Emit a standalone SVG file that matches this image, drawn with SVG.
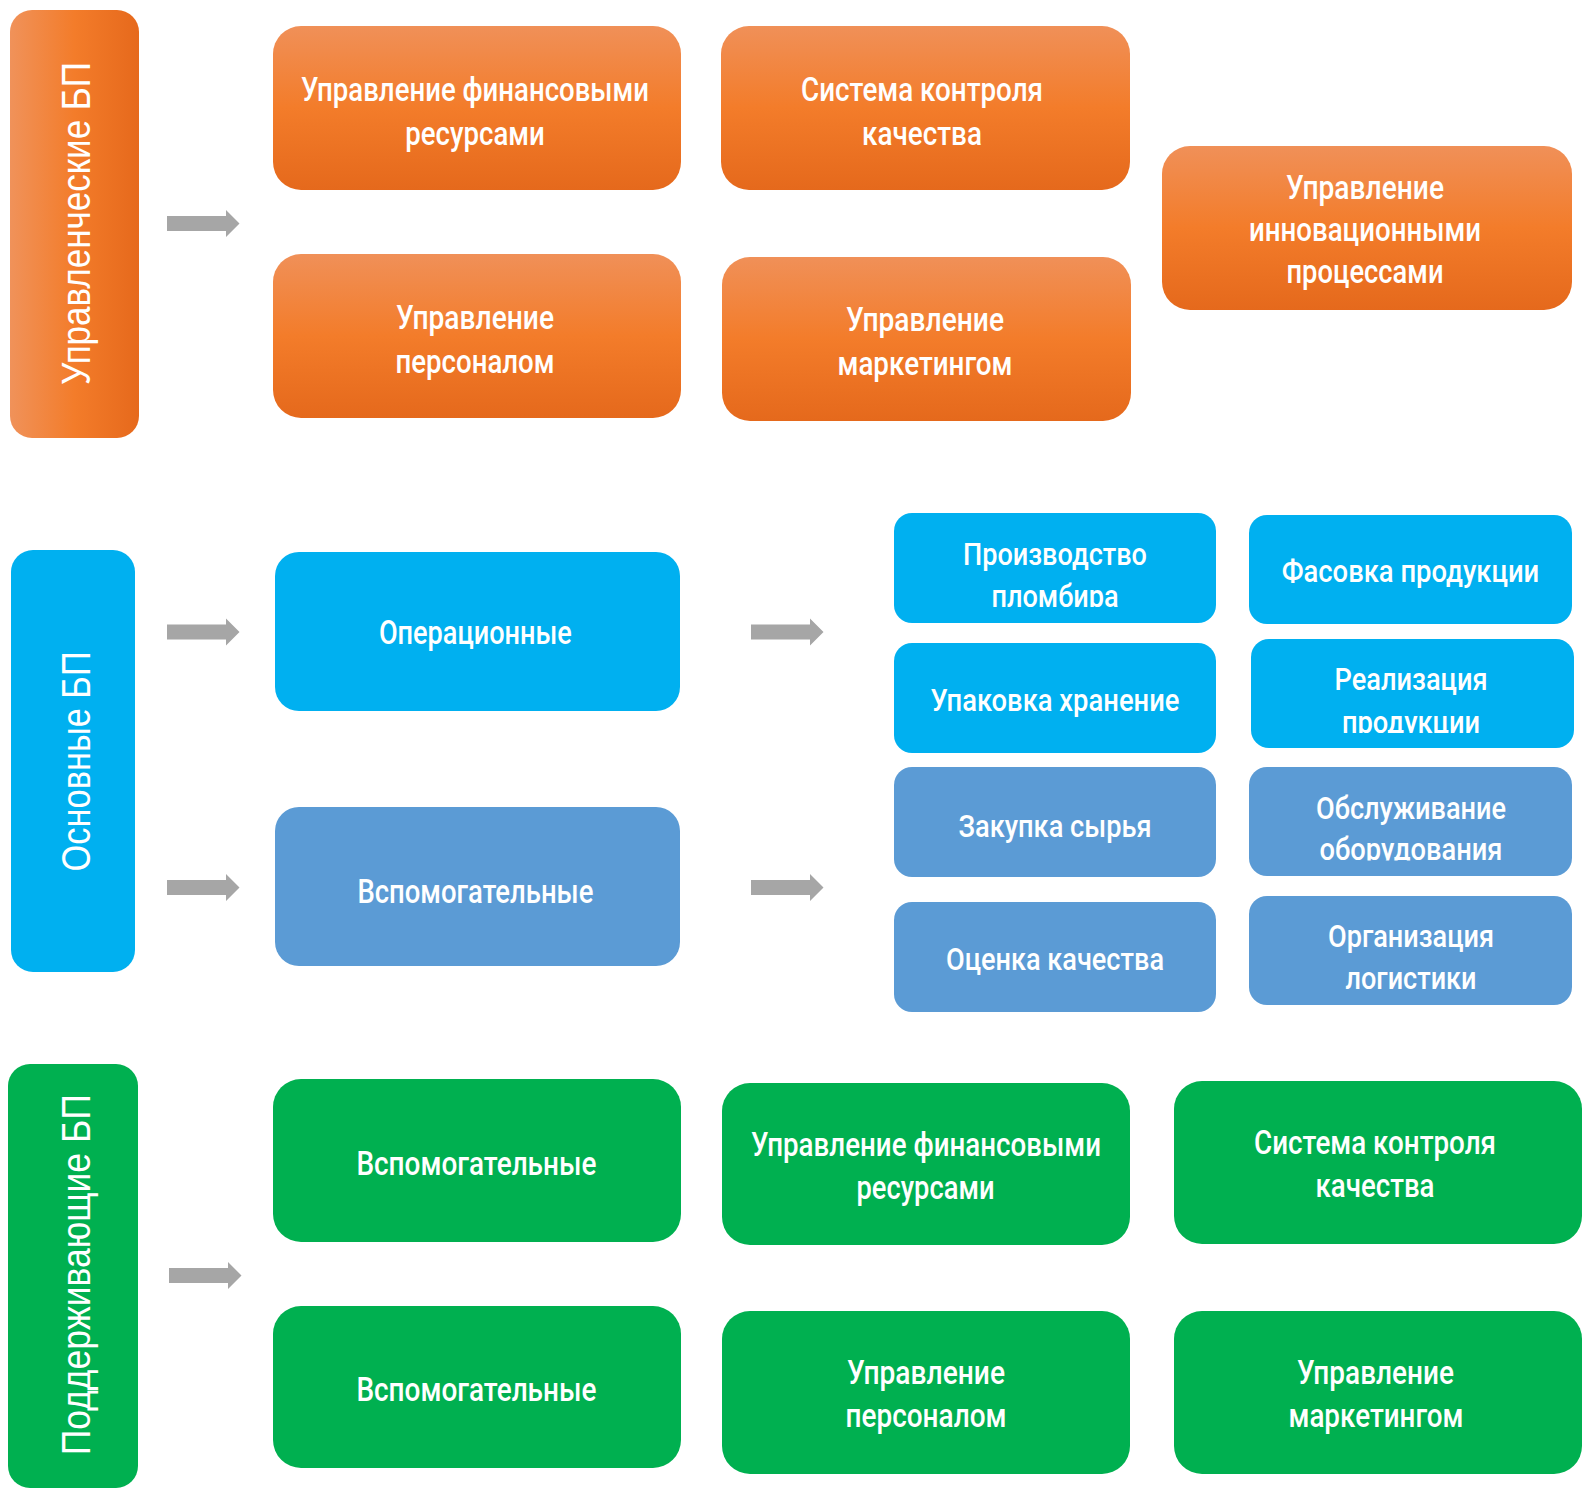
<svg xmlns="http://www.w3.org/2000/svg" width="1596" height="1502" viewBox="0 0 1596 1502">
  <defs>
    <linearGradient id="gOrangeV" x1="0" y1="0" x2="0" y2="1">
      <stop offset="0" stop-color="#F09058"/>
      <stop offset="0.5" stop-color="#F37C2A"/>
      <stop offset="1" stop-color="#E5691C"/>
    </linearGradient>
    <linearGradient id="gOrangeH" x1="0" y1="0" x2="1" y2="0">
      <stop offset="0" stop-color="#F0925A"/>
      <stop offset="0.5" stop-color="#F37C2A"/>
      <stop offset="1" stop-color="#E6691C"/>
    </linearGradient>
    <path id="arrow" d="M0,-7.5 H59 V-13.5 L72.5,0 L59,13.5 V7.5 H0 Z" fill="#A6A6A6"/>
    <clipPath id="clipPlombir"><rect x="894" y="513" width="322" height="94"/></clipPath>
    <clipPath id="clipProd"><rect x="1251" y="639" width="323" height="94"/></clipPath>
    <clipPath id="clipObor"><rect x="1249" y="767" width="323" height="93.5"/></clipPath>
  </defs>
  <style>
    .t { font-family: Roboto, "Liberation Sans", sans-serif; font-weight: 500; font-size: 33px; fill: #FFFFFF; text-anchor: middle; }
    .s { font-size: 31px; }
    .v { font-family: "Liberation Sans", Arial, sans-serif; font-weight: 400; font-size: 41px; fill: #FFFFFF; text-anchor: middle; }
    .or { fill: url(#gOrangeV); }
    .bl { fill: #00B0F0; }
    .st { fill: #5B9BD5; }
    .gr { fill: #00B050; }
  </style>
  <rect width="1596" height="1502" fill="#FFFFFF"/>

  <!-- Orange section -->
  <g id="bar-upr">
    <rect x="10" y="10" width="129" height="428" rx="22" fill="url(#gOrangeH)"/>
    <text class="v" transform="translate(89.5 223.5) rotate(-90)" x="0" y="0" textLength="323" lengthAdjust="spacingAndGlyphs">Управленческие БП</text>
  </g>
  <g id="o-fin">
    <rect class="or" x="273" y="26" width="408" height="164" rx="28"/>
    <text class="t" x="475" y="101" textLength="348" lengthAdjust="spacingAndGlyphs">Управление финансовыми</text>
    <text class="t" x="475" y="144.7" textLength="139.5" lengthAdjust="spacingAndGlyphs">ресурсами</text>
  </g>
  <g id="o-qual">
    <rect class="or" x="721" y="26" width="409" height="164" rx="28"/>
    <text class="t" x="922" y="101" textLength="242" lengthAdjust="spacingAndGlyphs">Система контроля</text>
    <text class="t" x="922" y="144.7" textLength="120" lengthAdjust="spacingAndGlyphs">качества</text>
  </g>
  <g id="o-pers">
    <rect class="or" x="273" y="254" width="408" height="164" rx="28"/>
    <text class="t" x="475" y="329" textLength="158" lengthAdjust="spacingAndGlyphs">Управление</text>
    <text class="t" x="475" y="372.8" textLength="159" lengthAdjust="spacingAndGlyphs">персоналом</text>
  </g>
  <g id="o-mark">
    <rect class="or" x="722" y="257" width="409" height="164" rx="28"/>
    <text class="t" x="925" y="331" textLength="158" lengthAdjust="spacingAndGlyphs">Управление</text>
    <text class="t" x="925" y="374.8" textLength="175" lengthAdjust="spacingAndGlyphs">маркетингом</text>
  </g>
  <g id="o-innov">
    <rect class="or" x="1162" y="146" width="410" height="164" rx="28"/>
    <text class="t" x="1365" y="198.7" textLength="158" lengthAdjust="spacingAndGlyphs">Управление</text>
    <text class="t" x="1365" y="241.4" textLength="232" lengthAdjust="spacingAndGlyphs">инновационными</text>
    <text class="t" x="1365" y="283.2" textLength="157" lengthAdjust="spacingAndGlyphs">процессами</text>
  </g>

  <!-- Blue section -->
  <g id="bar-osn">
    <rect class="bl" x="11" y="550" width="124" height="422" rx="22"/>
    <text class="v" transform="translate(89.5 761.4) rotate(-90)" x="0" y="0" textLength="220" lengthAdjust="spacingAndGlyphs">Основные БП</text>
  </g>
  <g id="b-oper">
    <rect class="bl" x="275" y="552" width="405" height="159" rx="24"/>
    <text class="t" x="475.4" y="644.4" textLength="193" lengthAdjust="spacingAndGlyphs">Операционные</text>
  </g>
  <g id="b-vspom">
    <rect class="st" x="275" y="807" width="405" height="159" rx="24"/>
    <text class="t" x="475.4" y="903.1" textLength="236" lengthAdjust="spacingAndGlyphs">Вспомогательные</text>
  </g>
  <g id="b-proizv">
    <rect class="bl" x="894" y="513" width="322" height="110" rx="18"/>
    <text class="t s" x="1055" y="565" textLength="184" lengthAdjust="spacingAndGlyphs">Производство</text>
    <text class="t s" x="1055" y="606.8" textLength="127" lengthAdjust="spacingAndGlyphs" clip-path="url(#clipPlombir)">пломбира</text>
  </g>
  <g id="b-fasov">
    <rect class="bl" x="1249" y="515" width="323" height="109" rx="18"/>
    <text class="t s" x="1410.5" y="582.3" textLength="257.5" lengthAdjust="spacingAndGlyphs">Фасовка продукции</text>
  </g>
  <g id="b-upak">
    <rect class="bl" x="894" y="643" width="322" height="110" rx="18"/>
    <text class="t s" x="1055" y="710.6" textLength="249" lengthAdjust="spacingAndGlyphs">Упаковка хранение</text>
  </g>
  <g id="b-realiz">
    <rect class="bl" x="1251" y="639" width="323" height="109" rx="18"/>
    <text class="t s" x="1411" y="690.3" textLength="153" lengthAdjust="spacingAndGlyphs">Реализация</text>
    <text class="t s" x="1411" y="733" textLength="138" lengthAdjust="spacingAndGlyphs" clip-path="url(#clipProd)">продукции</text>
  </g>
  <g id="b-zakup">
    <rect class="st" x="894" y="767" width="322" height="110" rx="18"/>
    <text class="t s" x="1055" y="836.8" textLength="193" lengthAdjust="spacingAndGlyphs">Закупка сырья</text>
  </g>
  <g id="b-obsl">
    <rect class="st" x="1249" y="767" width="323" height="109" rx="18"/>
    <text class="t s" x="1411" y="818.5" textLength="190" lengthAdjust="spacingAndGlyphs">Обслуживание</text>
    <text class="t s" x="1411" y="860.3" textLength="183" lengthAdjust="spacingAndGlyphs" clip-path="url(#clipObor)">оборудования</text>
  </g>
  <g id="b-ocenka">
    <rect class="st" x="894" y="902" width="322" height="110" rx="18"/>
    <text class="t s" x="1055" y="970.2" textLength="218" lengthAdjust="spacingAndGlyphs">Оценка качества</text>
  </g>
  <g id="b-logist">
    <rect class="st" x="1249" y="896" width="323" height="109" rx="18"/>
    <text class="t s" x="1411" y="946.8" textLength="166" lengthAdjust="spacingAndGlyphs">Организация</text>
    <text class="t s" x="1411" y="988.5" textLength="131" lengthAdjust="spacingAndGlyphs">логистики</text>
  </g>

  <!-- Green section -->
  <g id="bar-podd">
    <rect class="gr" x="8" y="1064" width="130" height="424" rx="22"/>
    <text class="v" transform="translate(89.5 1274.8) rotate(-90)" x="0" y="0" textLength="361" lengthAdjust="spacingAndGlyphs">Поддерживающие БП</text>
  </g>
  <g id="g-vspom1">
    <rect class="gr" x="273" y="1079" width="408" height="163" rx="28"/>
    <text class="t" x="476.4" y="1174.9" textLength="240" lengthAdjust="spacingAndGlyphs">Вспомогательные</text>
  </g>
  <g id="g-vspom2">
    <rect class="gr" x="273" y="1306" width="408" height="162" rx="28"/>
    <text class="t" x="476.4" y="1400.8" textLength="240" lengthAdjust="spacingAndGlyphs">Вспомогательные</text>
  </g>
  <g id="g-fin">
    <rect class="gr" x="722" y="1083" width="408" height="162" rx="28"/>
    <text class="t" x="926" y="1156.4" textLength="350" lengthAdjust="spacingAndGlyphs">Управление финансовыми</text>
    <text class="t" x="925.5" y="1199.4" textLength="138" lengthAdjust="spacingAndGlyphs">ресурсами</text>
  </g>
  <g id="g-qual">
    <rect class="gr" x="1174" y="1081" width="408" height="163" rx="28"/>
    <text class="t" x="1375" y="1154.4" textLength="242" lengthAdjust="spacingAndGlyphs">Система контроля</text>
    <text class="t" x="1375" y="1197.4" textLength="119" lengthAdjust="spacingAndGlyphs">качества</text>
  </g>
  <g id="g-pers">
    <rect class="gr" x="722" y="1311" width="408" height="163" rx="28"/>
    <text class="t" x="926" y="1384.4" textLength="158" lengthAdjust="spacingAndGlyphs">Управление</text>
    <text class="t" x="926" y="1427.4" textLength="161" lengthAdjust="spacingAndGlyphs">персоналом</text>
  </g>
  <g id="g-mark">
    <rect class="gr" x="1174" y="1311" width="408" height="163" rx="28"/>
    <text class="t" x="1375.5" y="1384.4" textLength="157" lengthAdjust="spacingAndGlyphs">Управление</text>
    <text class="t" x="1376" y="1427.4" textLength="175" lengthAdjust="spacingAndGlyphs">маркетингом</text>
  </g>

  <!-- Connectors -->
  <g id="connectors">
    <use href="#arrow" x="167" y="223.5"/>
    <use href="#arrow" x="167" y="632"/>
    <use href="#arrow" x="167" y="887.6"/>
    <use href="#arrow" x="751" y="632"/>
    <use href="#arrow" x="751" y="887.6"/>
    <use href="#arrow" x="169" y="1275.5"/>
  </g>
</svg>
